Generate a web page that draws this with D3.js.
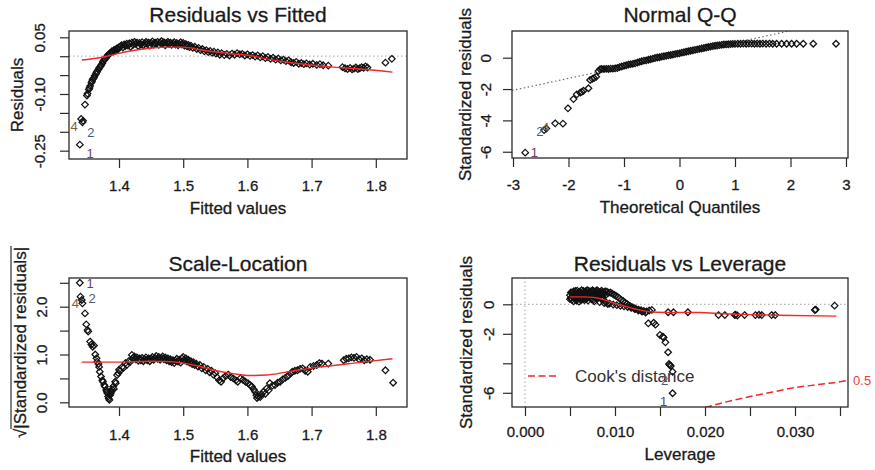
<!DOCTYPE html>
<html>
<head>
<meta charset="utf-8">
<script src="https://cdnjs.cloudflare.com/ajax/libs/d3/7.8.5/d3.min.js"></script>
<style>
  body { margin: 0; background: #fff; }
  svg text { font-family: "Liberation Sans", Arial, Helvetica, sans-serif; fill: #1a1a1a; }
  svg text.heavy { stroke: #1a1a1a; stroke-width: 0.3px; }
</style>
</head>
<body>
<svg width="875" height="470"></svg>
<script>
// ---- Residuals vs Fitted : [fitted, residual]
const residFitted = [
  [1.339,-0.234],[1.341,-0.166],[1.343,-0.175],[1.344,-0.171],[1.347,-0.128],[1.350,-0.104],[1.351,-0.099],
  [1.353,-0.088],[1.354,-0.084],[1.355,-0.079],[1.357,-0.070],[1.358,-0.066],[1.359,-0.061],[1.361,-0.057],
  [1.362,-0.052],[1.364,-0.047],[1.365,-0.043],[1.366,-0.040],[1.368,-0.035],[1.369,-0.031],[1.371,-0.027],
  [1.372,-0.024],[1.374,-0.019],[1.375,-0.014],[1.377,-0.010],[1.378,-0.007],[1.380,-0.004],[1.381,-0.001],
  [1.383,0.003],[1.384,0.005],[1.386,0.008],[1.388,0.010],[1.389,0.013],[1.391,0.012],[1.392,0.016],
  [1.394,0.018],[1.395,0.015],[1.397,0.021],[1.399,0.019],[1.400,0.024],[1.402,0.026],[1.404,0.029],
  [1.406,0.023],[1.408,0.031],[1.410,0.027],[1.412,0.033],[1.414,0.028],[1.416,0.034],[1.418,0.025],
  [1.420,0.036],[1.422,0.030],[1.424,0.038],[1.426,0.033],[1.428,0.036],[1.430,0.027],[1.432,0.035],
  [1.434,0.031],[1.436,0.037],[1.438,0.029],[1.440,0.034],[1.442,0.038],[1.444,0.032],[1.446,0.036],
  [1.448,0.028],[1.450,0.035],[1.452,0.039],[1.454,0.031],[1.456,0.036],[1.458,0.033],[1.460,0.038],
  [1.462,0.030],[1.464,0.036],[1.466,0.040],[1.468,0.033],[1.470,0.037],[1.472,0.029],[1.474,0.035],
  [1.476,0.038],[1.478,0.032],[1.480,0.036],[1.482,0.030],[1.484,0.034],[1.486,0.037],[1.488,0.031],
  [1.490,0.035],[1.492,0.029],[1.494,0.033],[1.496,0.037],[1.498,0.031],[1.500,0.035],[1.502,0.028],
  [1.504,0.032],[1.506,0.026],[1.508,0.030],[1.510,0.024],[1.512,0.028],[1.515,0.022],[1.518,0.025],
  [1.521,0.019],[1.524,0.022],[1.527,0.016],[1.530,0.019],[1.533,0.013],[1.536,0.016],[1.539,0.011],
  [1.542,0.014],[1.545,0.009],[1.548,0.012],[1.551,0.007],[1.554,0.010],[1.557,0.004],[1.560,0.008],
  [1.564,0.003],[1.568,0.006],[1.572,0.002],[1.576,0.007],[1.580,0.004],[1.584,0.008],[1.588,0.005],
  [1.592,0.006],[1.596,0.002],[1.600,0.005],[1.604,0.001],[1.608,0.003],[1.612,-0.001],[1.616,0.002],
  [1.620,-0.003],[1.624,0.000],[1.628,-0.005],[1.632,-0.002],[1.636,-0.007],[1.640,-0.004],[1.644,-0.009],
  [1.648,-0.006],[1.652,-0.011],[1.656,-0.009],[1.660,-0.013],[1.664,-0.011],[1.668,-0.016],[1.672,-0.018],
  [1.676,-0.015],[1.680,-0.020],[1.684,-0.018],[1.688,-0.021],[1.692,-0.019],[1.697,-0.022],[1.702,-0.020],
  [1.708,-0.023],[1.713,-0.021],[1.718,-0.024],[1.726,-0.025],[1.748,-0.029],[1.752,-0.032],[1.756,-0.034],
  [1.760,-0.031],[1.763,-0.035],[1.766,-0.033],[1.769,-0.030],[1.772,-0.034],[1.775,-0.032],[1.778,-0.029],
  [1.781,-0.031],[1.784,-0.027],[1.787,-0.030],[1.815,-0.017],[1.825,-0.007]
];
const residFittedSmooth = [
  [1.342,-0.010],[1.370,-0.004],[1.396,0.006],[1.422,0.015],[1.448,0.021],[1.474,0.024],[1.500,0.024],
  [1.526,0.017],[1.552,0.011],[1.578,0.006],[1.604,0.002],[1.630,-0.007],[1.682,-0.020],[1.734,-0.029],
  [1.786,-0.035],[1.826,-0.042]
];
const residFittedLabels = [["4",1.330,-0.187],["2",1.356,-0.203],["1",1.355,-0.256]];
const fitTicks = [1.4,1.5,1.6,1.7,1.8];
const fitTickLabels = ["1.4","1.5","1.6","1.7","1.8"];
const residTicks = [0.05,0,-0.05,-0.10,-0.15,-0.20,-0.25];
const residTickLabels = ["0.05","","","-0.10","","","-0.25"];

// ---- Normal Q-Q : [theoretical quantile, standardized residual]
const qqPoints = [
  [-2.78,-6.06],[-2.44,-4.62],[-2.40,-4.52],[-2.24,-4.19],[-2.10,-4.21],[-2.01,-3.23],[-1.91,-2.64],
  [-1.85,-2.34],[-1.79,-2.23],[-1.76,-2.18],[-1.73,-2.11],[-1.64,-1.95],[-1.61,-1.42],[-1.57,-1.35],
  [-1.54,-1.30],[-1.50,-1.22],[-1.46,-0.85],[-1.43,-0.74],[-1.40,-0.72],[-1.36,-0.72],[-1.32,-0.71],
  [-1.28,-0.72],[-1.24,-0.70],[-1.20,-0.70],[-1.16,-0.68],[-1.12,-0.66],[-1.08,-0.60],[-1.04,-0.56],
  [-1.00,-0.52],[-0.96,-0.48],[-0.92,-0.44],[-0.88,-0.41],[-0.84,-0.39],[-0.80,-0.36],[-0.76,-0.31],
  [-0.72,-0.27],[-0.68,-0.23],[-0.64,-0.19],[-0.60,-0.17],[-0.56,-0.13],[-0.52,-0.10],[-0.48,-0.06],
  [-0.44,-0.02],[-0.40,0.01],[-0.36,0.03],[-0.32,0.07],[-0.28,0.09],[-0.24,0.12],[-0.20,0.15],
  [-0.16,0.17],[-0.12,0.20],[-0.08,0.23],[-0.04,0.26],[0.00,0.28],[0.04,0.32],[0.08,0.35],[0.12,0.38],
  [0.16,0.41],[0.20,0.44],[0.24,0.47],[0.28,0.50],[0.32,0.53],[0.36,0.56],[0.40,0.59],[0.44,0.62],
  [0.48,0.65],[0.52,0.68],[0.56,0.71],[0.60,0.74],[0.64,0.76],[0.68,0.78],[0.72,0.80],[0.76,0.82],
  [0.80,0.84],[0.84,0.85],[0.88,0.86],[0.92,0.87],[0.96,0.88],[1.00,0.88],[1.05,0.89],[1.10,0.89],
  [1.15,0.90],[1.20,0.89],[1.25,0.90],[1.30,0.90],[1.35,0.89],[1.40,0.90],[1.45,0.89],[1.50,0.90],
  [1.56,0.89],[1.62,0.90],[1.68,0.89],[1.75,0.89],[1.84,0.89],[1.93,0.89],[2.02,0.89],[2.11,0.89],
  [2.23,0.89],[2.41,0.89],[2.82,0.89]
];
const qqLineCoef = [0.20, 0.76]; // intercept, slope
const qqLabels = [["2",-2.514,-4.679],["4",-2.414,-4.455],["1",-2.613,-6.051]];
const qqXTicks = [-3,-2,-1,0,1,2,3];
const qqXTickLabels = ["-3","-2","-1","0","1","2","3"];
const stdTicks = [0,-2,-4,-6];
const qqYTickLabels = ["0","-2","-4","-6"];

// ---- Scale-Location : [fitted, sqrt(|standardized residual|)]
const scaleLoc = [
  [1.339,2.50],[1.340,2.21],[1.342,2.14],[1.343,2.07],[1.347,1.86],[1.349,1.63],[1.351,1.51],[1.352,1.48],
  [1.355,1.27],[1.357,1.21],[1.359,1.16],[1.361,1.19],[1.363,1.00],[1.365,0.92],[1.366,0.85],[1.368,0.80],
  [1.369,0.74],[1.370,0.64],[1.372,0.54],[1.374,0.46],[1.375,0.43],[1.377,0.36],[1.378,0.33],[1.380,0.26],
  [1.381,0.22],[1.382,0.19],[1.383,0.12],[1.384,0.08],[1.385,0.05],[1.386,0.15],[1.387,0.18],[1.388,0.22],
  [1.389,0.27],[1.391,0.33],[1.392,0.28],[1.394,0.43],[1.395,0.40],[1.397,0.57],[1.399,0.61],[1.400,0.68],
  [1.402,0.66],[1.405,0.74],[1.407,0.72],[1.410,0.82],[1.412,0.78],[1.415,0.86],[1.417,0.84],[1.420,0.99],
  [1.422,0.93],[1.424,0.96],[1.426,0.90],[1.428,0.94],[1.430,0.87],[1.432,0.92],[1.434,0.88],[1.436,0.93],
  [1.438,0.86],[1.440,0.90],[1.442,0.94],[1.444,0.88],[1.446,0.92],[1.448,0.86],[1.450,0.91],[1.452,0.95],
  [1.454,0.89],[1.456,0.93],[1.458,0.97],[1.460,0.91],[1.462,0.95],[1.464,0.89],[1.466,0.93],[1.468,0.96],
  [1.470,0.90],[1.472,0.94],[1.474,0.88],[1.476,0.92],[1.478,0.86],[1.480,0.90],[1.482,0.84],[1.484,0.88],
  [1.486,0.82],[1.488,0.87],[1.490,0.91],[1.492,0.85],[1.494,0.89],[1.496,0.83],[1.498,0.92],[1.500,0.95],
  [1.502,0.88],[1.504,0.92],[1.506,0.85],[1.508,0.89],[1.510,0.83],[1.512,0.86],[1.514,0.80],[1.516,0.84],
  [1.518,0.78],[1.520,0.81],[1.523,0.75],[1.526,0.78],[1.529,0.71],[1.532,0.74],[1.535,0.67],[1.538,0.70],
  [1.541,0.63],[1.544,0.66],[1.547,0.58],[1.550,0.61],[1.553,0.52],[1.556,0.46],[1.559,0.43],[1.562,0.50],
  [1.566,0.55],[1.570,0.58],[1.574,0.53],[1.578,0.50],[1.582,0.46],[1.585,0.43],[1.589,0.50],[1.593,0.47],
  [1.597,0.43],[1.601,0.40],[1.604,0.36],[1.607,0.33],[1.610,0.27],[1.612,0.22],[1.614,0.15],[1.615,0.09],
  [1.617,0.12],[1.620,0.11],[1.622,0.17],[1.625,0.22],[1.628,0.18],[1.630,0.29],[1.633,0.25],[1.635,0.40],
  [1.639,0.35],[1.643,0.36],[1.647,0.41],[1.651,0.43],[1.655,0.48],[1.659,0.51],[1.663,0.55],[1.667,0.60],
  [1.670,0.64],[1.674,0.66],[1.678,0.67],[1.682,0.70],[1.686,0.71],[1.690,0.66],[1.694,0.64],[1.698,0.74],
  [1.703,0.76],[1.708,0.78],[1.712,0.82],[1.716,0.81],[1.726,0.81],[1.750,0.88],[1.754,0.91],[1.758,0.92],
  [1.762,0.94],[1.766,0.93],[1.770,0.95],[1.774,0.90],[1.778,0.92],[1.782,0.88],[1.786,0.90],[1.791,0.89],
  [1.815,0.67],[1.827,0.41]
];
const scaleLocSmooth = [
  [1.342,0.84],[1.380,0.84],[1.420,0.85],[1.450,0.86],[1.480,0.85],[1.500,0.82],[1.526,0.75],[1.552,0.66],
  [1.578,0.60],[1.604,0.56],[1.630,0.57],[1.656,0.62],[1.682,0.68],[1.708,0.73],[1.734,0.77],[1.760,0.81],
  [1.786,0.85],[1.826,0.91]
];
const scaleLocLabels = [["1",1.355,2.485],["2",1.358,2.182],["4",1.332,2.067]];
const sqrtTicks = [0,0.5,1,1.5,2,2.5];
const sqrtTickLabels = ["0.0","","1.0","","2.0",""];

// ---- Residuals vs Leverage : [leverage, standardized residual]
const resLev = [
  [0.0050,0.62],[0.0051,0.45],[0.0052,0.78],[0.0052,0.30],[0.0053,0.55],[0.0054,0.88],[0.0055,0.40],
  [0.0056,0.70],[0.0057,0.25],[0.0058,0.92],[0.0059,0.52],[0.0060,0.80],[0.0061,0.35],[0.0062,0.65],
  [0.0063,0.95],[0.0064,0.46],[0.0065,0.75],[0.0066,0.28],[0.0067,0.88],[0.0068,0.58],[0.0069,0.40],
  [0.0070,0.93],[0.0071,0.70],[0.0072,0.50],[0.0073,0.85],[0.0074,0.33],[0.0075,0.62],[0.0076,0.90],
  [0.0077,0.20],[0.0078,0.75],[0.0079,0.45],[0.0080,0.95],[0.0081,0.60],[0.0082,0.82],[0.0083,0.15],
  [0.0084,0.70],[0.0085,0.92],[0.0086,0.50],[0.0087,0.80],[0.0088,0.08],[0.0089,0.88],[0.0090,0.65],
  [0.0091,0.85],[0.0092,0.02],[0.0093,0.78],
  [0.0050,0.35],[0.0051,0.80],[0.0053,0.68],[0.0054,0.20],[0.0055,0.58],[0.0056,0.90],[0.0057,0.48],
  [0.0058,0.38],[0.0059,0.72],[0.0060,0.18],[0.0061,0.85],[0.0062,0.45],[0.0063,0.30],[0.0064,0.68],
  [0.0065,0.90],[0.0066,0.55],[0.0067,0.38],[0.0068,0.78],[0.0069,0.95],[0.0070,0.25],[0.0071,0.55],
  [0.0072,0.88],[0.0073,0.42],[0.0074,0.72],[0.0075,0.95],[0.0076,0.30],[0.0077,0.60],[0.0078,0.88],
  [0.0079,0.68],[0.0080,0.35],[0.0081,0.90],[0.0082,0.55],[0.0083,0.78],[0.0084,0.40],[0.0085,0.65],
  [0.0086,0.85],[0.0087,0.30],[0.0088,0.72],
  [0.0095,0.80],[0.0097,0.72],[0.0099,0.65],[0.0101,0.58],[0.0103,0.50],[0.0105,0.40],[0.0107,0.30],
  [0.0109,0.22],[0.0111,0.12],[0.0113,0.03],[0.0115,-0.06],[0.0117,-0.13],[0.0119,-0.20],[0.0121,-0.25],
  [0.0123,-0.30],[0.0126,-0.36],[0.0129,-0.40],[0.0132,-0.45],[0.0135,-0.49],
  [0.0090,0.12],[0.0094,0.05],[0.0098,-0.02],[0.0102,-0.06],[0.0106,-0.10],[0.0110,-0.14],[0.0114,-0.18],
  [0.0118,-0.24],[0.0122,-0.32],[0.0126,-0.42],[0.0130,-0.50],[0.0134,-0.56],[0.0138,-0.42],[0.0141,-0.38],
  [0.0159,-0.54],[0.0165,-0.54],[0.0181,-0.54],[0.0215,-0.73],[0.0222,-0.73],[0.0233,-0.73],[0.0234,-0.70],
  [0.0236,-0.76],[0.0244,-0.73],[0.0256,-0.73],[0.0260,-0.71],[0.0263,-0.73],[0.0274,-0.73],[0.0278,-0.73],
  [0.0322,-0.39],[0.0323,-0.36],[0.0344,-0.09],
  [0.0137,-1.29],[0.0143,-1.25],[0.0145,-1.38],[0.0150,-2.08],[0.0153,-2.19],[0.0154,-2.25],[0.0156,-2.58],
  [0.0159,-3.25],[0.0160,-4.05],[0.0161,-4.12],[0.0162,-4.18],[0.0164,-4.57],[0.0164,-6.03]
];
const resLevSmooth = [
  [0.0050,0.50],[0.0065,0.50],[0.0076,0.47],[0.0085,0.36],[0.0094,0.18],[0.0103,0.01],[0.0113,-0.16],
  [0.0122,-0.31],[0.0131,-0.43],[0.0146,-0.54],[0.0170,-0.56],[0.0194,-0.56],[0.0220,-0.64],[0.0250,-0.70],
  [0.0280,-0.74],[0.0346,-0.80]
];
const resLevLabels = [["2",0.0155,-5.13],["1",0.0154,-6.56]];
const cookLev = [0.0200,0.0225,0.0250,0.0275,0.0300,0.0325,0.0350,0.0359];
const cookStd = [-7.00,-6.60,-6.25,-5.95,-5.65,-5.45,-5.25,-5.15];
const levTicks = [0,0.005,0.010,0.015,0.020,0.025,0.030,0.035];
const levTickLabels = ["0.000","","0.010","","0.020","","0.030",""];
const levYTickLabels = ["0","-2","","-6"];

const svg = d3.select("svg");
svg.append("rect").attr("width", 875).attr("height", 470).attr("fill", "#fff");

const diamond = "M0,-3.3L3.3,0L0,3.3L-3.3,0Z";
const labelColors = { "1": "#6a3d6a", "2": "#4f5878", "4": "#7a6240" };

function drawPanel(p, idx) {
  const g = svg.append("g");
  const x = d3.scaleLinear().domain(p.xDomain).range([p.left, p.right]);
  const y = d3.scaleLinear().domain(p.yDomain).range([p.bottom, p.top]);

  g.append("clipPath").attr("id", "clip" + idx)
    .append("rect")
    .attr("x", p.left).attr("y", p.top)
    .attr("width", p.right - p.left).attr("height", p.bottom - p.top);
  const inner = g.append("g").attr("clip-path", `url(#clip${idx})`);

  // reference lines first
  if (p.refs) p.refs(inner, x, y);

  inner.selectAll("path.pt")
    .data(p.points)
    .enter()
    .append("path")
      .attr("class", "pt")
      .attr("d", diamond)
      .attr("transform", d => `translate(${x(d[0])},${y(d[1])})`)
      .attr("fill", "none")
      .attr("stroke", "#111")
      .attr("stroke-width", 1.25);

  if (p.smooth) {
    inner.append("path")
      .datum(p.smooth)
      .attr("d", d3.line().x(d => x(d[0])).y(d => y(d[1])).curve(d3.curveMonotoneX))
      .attr("fill", "none")
      .attr("stroke", "#ee2a2a")
      .attr("stroke-width", 1.4);
  }

  if (p.extra) p.extra(g, inner, x, y);

  // point labels
  g.selectAll("text.lab")
    .data(p.labels)
    .enter()
    .append("text")
      .attr("class", "lab")
      .attr("x", d => x(d[1]))
      .attr("y", d => y(d[2]))
      .attr("dy", "0.35em")
      .attr("text-anchor", "middle")
      .style("font-size", "13px")
      .style("fill", d => labelColors[d[0]])
      .text(d => d[0]);

  // box
  g.append("rect")
    .attr("x", p.left).attr("y", p.top)
    .attr("width", p.right - p.left).attr("height", p.bottom - p.top)
    .attr("fill", "none").attr("stroke", "#2a2a2a").attr("stroke-width", 1.3);

  // x axis
  g.append("g")
    .attr("transform", `translate(0,${p.bottom})`)
    .attr("color", "#2a2a2a")
    .call(d3.axisBottom(x).tickValues(p.xTicks).tickSize(9)
      .tickFormat((d, i) => p.xTickLabels[i]))
    .call(a => a.select(".domain").remove())
    .call(a => a.selectAll("line").attr("stroke-width", 1.2))
    .call(a => a.selectAll("text").attr("class", "heavy").attr("y", p.xTickY).attr("dy", null)
      .style("font-size", "15px"));

  // y axis, labels parallel to the axis
  g.append("g")
    .attr("transform", `translate(${p.left},0)`)
    .attr("color", "#2a2a2a")
    .call(d3.axisLeft(y).tickValues(p.yTicks).tickSize(9)
      .tickFormat((d, i) => p.yTickLabels[i]))
    .call(a => a.select(".domain").remove())
    .call(a => a.selectAll("line").attr("stroke-width", 1.2))
    .call(a => a.selectAll("text").attr("class", "heavy").attr("x", null).attr("dy", null)
      .attr("text-anchor", "middle")
      .attr("transform", `translate(${-p.yTickOff},0) rotate(-90)`)
      .style("font-size", "15px"));

  // title and axis titles
  g.append("text")
    .attr("class", "heavy")
    .attr("x", (p.left + p.right) / 2).attr("y", p.titleY)
    .attr("text-anchor", "middle")
    .style("font-size", "21px")
    .text(p.title);

  g.append("text")
    .attr("class", "heavy")
    .attr("x", (p.left + p.right) / 2).attr("y", p.xTitleY)
    .attr("text-anchor", "middle")
    .style("font-size", "17px")
    .text(p.xTitle);

  const yt = g.append("text")
    .attr("class", "heavy")
    .attr("transform", `translate(${p.yTitleX},${(p.top + p.bottom) / 2}) rotate(-90)`)
    .attr("text-anchor", "middle")
    .style("font-size", "17px")
    .text(p.yTitle);

  if (p.sqrtLabel) {
    // overbar of the square root sign
    const len = yt.node().getComputedTextLength();
    const rootW = 9;
    g.append("line")
      .attr("transform", `translate(${p.yTitleX},${(p.top + p.bottom) / 2}) rotate(-90)`)
      .attr("x1", -len / 2 + rootW).attr("x2", len / 2 + 1)
      .attr("y1", -15).attr("y2", -15)
      .attr("stroke", "#1a1a1a").attr("stroke-width", 1.1);
  }
}

// Residuals vs Fitted
drawPanel({
  left: 69, right: 407, top: 31, bottom: 159,
  xDomain: [1.3221, 1.8486], yDomain: [-0.2720, 0.0667],
  points: residFitted, smooth: residFittedSmooth, labels: residFittedLabels,
  xTicks: fitTicks, xTickLabels: fitTickLabels,
  yTicks: residTicks, yTickLabels: residTickLabels,
  xTickY: 32, yTickOff: 24, titleY: 22, xTitleY: 214, yTitleX: 23,
  title: "Residuals vs Fitted", xTitle: "Fitted values", yTitle: "Residuals",
  refs: (g, x, y) => {
    g.append("line")
      .attr("x1", x.range()[0]).attr("x2", x.range()[1])
      .attr("y1", y(0)).attr("y2", y(0))
      .attr("stroke", "#b5b5b5").attr("stroke-width", 1.2).attr("stroke-dasharray", "1.5,2.5");
  }
}, 1);

// Normal Q-Q
drawPanel({
  left: 512, right: 848, top: 31, bottom: 158,
  xDomain: [-3.018, 3.036], yDomain: [-6.40, 1.704],
  points: qqPoints, smooth: null, labels: qqLabels,
  xTicks: qqXTicks, xTickLabels: qqXTickLabels,
  yTicks: stdTicks, yTickLabels: qqYTickLabels,
  xTickY: 32, yTickOff: 21, titleY: 22, xTitleY: 213, yTitleX: 471,
  title: "Normal Q-Q", xTitle: "Theoretical Quantiles", yTitle: "Standardized residuals",
  refs: (g, x, y) => {
    const xs = x.domain();
    g.append("line")
      .attr("x1", x(xs[0])).attr("x2", x(xs[1]))
      .attr("y1", y(qqLineCoef[0] + qqLineCoef[1] * xs[0]))
      .attr("y2", y(qqLineCoef[0] + qqLineCoef[1] * xs[1]))
      .attr("stroke", "#6e6e6e").attr("stroke-width", 1.2).attr("stroke-dasharray", "1.5,2.5");
  }
}, 2);

// Scale-Location
drawPanel({
  left: 69, right: 407, top: 278, bottom: 407,
  xDomain: [1.3221, 1.8486], yDomain: [-0.098, 2.600],
  points: scaleLoc, smooth: scaleLocSmooth, labels: scaleLocLabels,
  xTicks: fitTicks, xTickLabels: fitTickLabels,
  yTicks: sqrtTicks, yTickLabels: sqrtTickLabels,
  xTickY: 33, yTickOff: 22.5, titleY: 271, xTitleY: 462, yTitleX: 26,
  title: "Scale-Location", xTitle: "Fitted values", yTitle: "\u221A|Standardized residuals|",
  sqrtLabel: true
}, 3);

// Residuals vs Leverage
drawPanel({
  left: 512, right: 848, top: 278, bottom: 407,
  xDomain: [-0.001444, 0.035889], yDomain: [-6.963, 1.783],
  points: resLev, smooth: resLevSmooth, labels: resLevLabels,
  xTicks: levTicks, xTickLabels: levTickLabels,
  yTicks: stdTicks, yTickLabels: levYTickLabels,
  xTickY: 30, yTickOff: 18, titleY: 271, xTitleY: 460, yTitleX: 472,
  title: "Residuals vs Leverage", xTitle: "Leverage", yTitle: "Standardized residuals",
  refs: (g, x, y) => {
    g.append("line")
      .attr("x1", x.range()[0]).attr("x2", x.range()[1])
      .attr("y1", y(0)).attr("y2", y(0))
      .attr("stroke", "#b5b5b5").attr("stroke-width", 1.2).attr("stroke-dasharray", "1.5,2.5");
    g.append("line")
      .attr("x1", x(0)).attr("x2", x(0))
      .attr("y1", y.range()[0]).attr("y2", y.range()[1])
      .attr("stroke", "#b5b5b5").attr("stroke-width", 1.2).attr("stroke-dasharray", "1.5,2.5");
  },
  extra: (g, inner, x, y) => {
    // Cook's distance 0.5 contour
    inner.append("path")
      .datum(d3.zip(cookLev, cookStd))
      .attr("d", d3.line().x(d => x(d[0])).y(d => y(d[1])).curve(d3.curveMonotoneX))
      .attr("fill", "none")
      .attr("stroke", "#ee2a2a").attr("stroke-width", 1.5).attr("stroke-dasharray", "7,3.5");
    g.append("text")
      .attr("x", x(cookLev[cookLev.length - 1]) + 5)
      .attr("y", y(cookStd[cookStd.length - 1]))
      .attr("dy", "0.35em")
      .style("font-size", "13px").style("fill", "#ee3a3a")
      .text("0.5");
    // legend
    const ly = 376;
    g.append("line")
      .attr("x1", 528).attr("x2", 556).attr("y1", ly).attr("y2", ly)
      .attr("stroke", "#ee2a2a").attr("stroke-width", 1.5).attr("stroke-dasharray", "7,3.5");
    g.append("text")
      .attr("x", 575).attr("y", ly).attr("dy", "0.35em")
      .style("font-size", "17px").style("fill", "#333")
      .text("Cook's distance");
  }
}, 4);
</script>
</body>
</html>
